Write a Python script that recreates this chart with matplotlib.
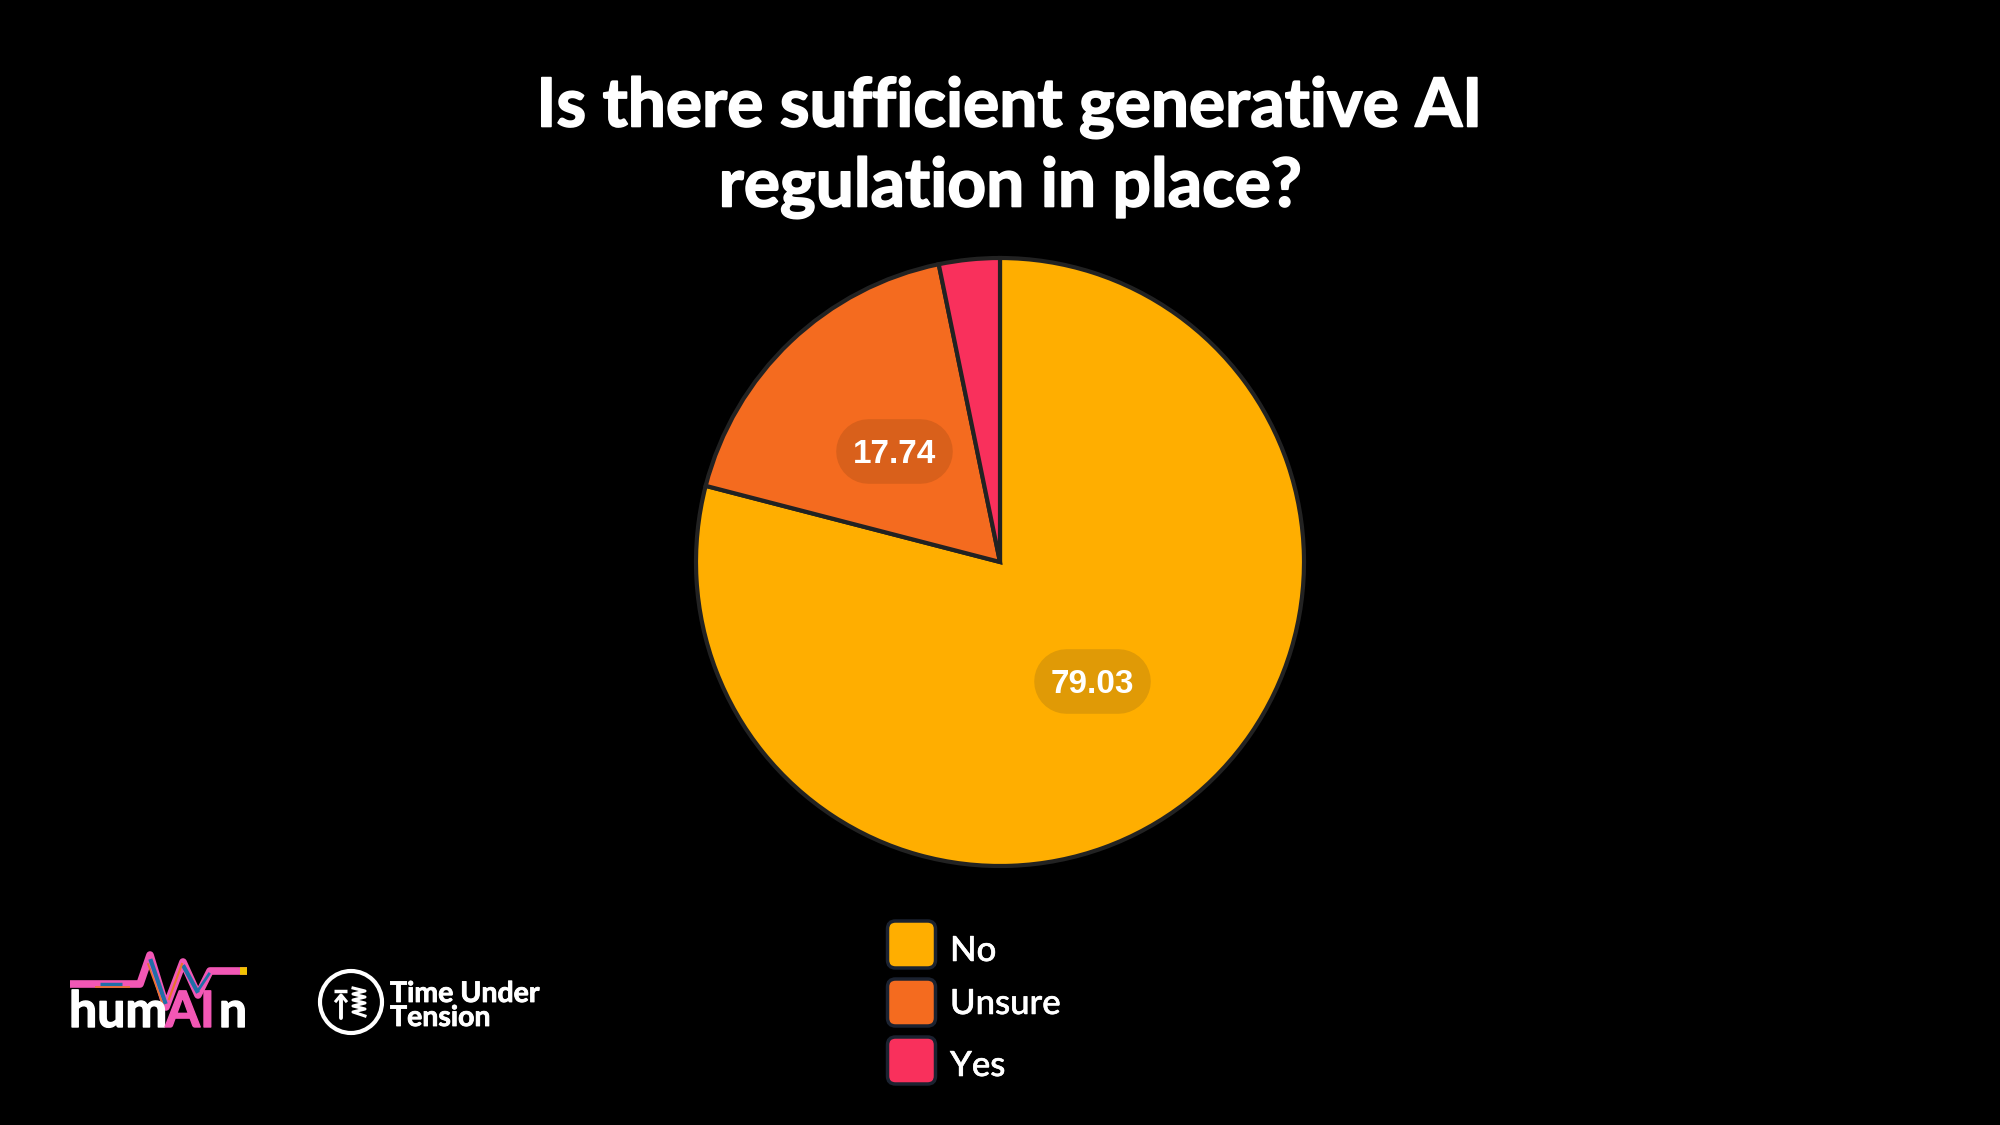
import numpy as np
import matplotlib
matplotlib.use("Agg")
import matplotlib.pyplot as plt
import matplotlib.patches as mpatches
import matplotlib.patheffects as pe

labels = ["No", "Unsure", "Yes"]
values = [79.03, 17.74, 3.23]
colors = ["#FFAE00", "#F46B1F", "#F9305C"]
pill_colors = ["#E09A06", "#D9601B", None]
title_lines = ["Is there sufficient generative AI", "regulation in place?"]

W, H = 2000, 1125
fig = plt.figure(figsize=(20, 11.25), dpi=100, facecolor="black")


def heavy(width):
    return [pe.withStroke(linewidth=width, foreground="white")]


# pixel overlay for everything that is not the pie
over = fig.add_axes([0, 0, 1, 1], zorder=3)
over.set_xlim(0, W)
over.set_ylim(H, 0)
over.axis("off")

# pie
cx, cy, R = 1000, 562, 304
ax = fig.add_axes([(cx - R) / W, 1 - (cy + R) / H, 2 * R / W, 2 * R / H], zorder=1)
wedges, _ = ax.pie(values, colors=colors, startangle=90, counterclock=False, radius=1.0,
                   wedgeprops=dict(edgecolor="#222222", linewidth=3.0))
ax.set_xlim(-1, 1)
ax.set_ylim(-1, 1)

# value labels sit at half radius on the slice mid angle
cum = np.cumsum(values)
for v, p, end in zip(values, pill_colors, cum):
    if p is None:
        continue
    a = np.deg2rad(90 - (end - v / 2) * 3.6)
    x = cx + 0.5 * R * np.cos(a) - 1
    y = cy - 0.5 * R * np.sin(a) - 1
    # a thick round capped line gives the pill shape
    over.plot([x - 26, x + 26], [y, y], color=p, lw=46.5, solid_capstyle="round")
    over.text(x, y, "%.2f" % v, color="white", fontsize=24, fontweight="bold",
              family="Liberation Sans", ha="center", va="center_baseline")

# title
over.text(1009, 101, title_lines[0], color="white", fontsize=48.7, fontweight="bold",
          family="Lato", ha="center", va="center_baseline", path_effects=heavy(1.2))
over.text(1010, 181, title_lines[1], color="white", fontsize=48.7, fontweight="bold",
          family="Lato", ha="center", va="center_baseline", path_effects=heavy(1.2))

# legend
sw_y = [921, 979, 1037]
txt_y = [948, 1001, 1063]
for lab, col, sy, ty in zip(labels, colors, sw_y, txt_y):
    over.add_patch(mpatches.FancyBboxPatch((895, sy + 7.5), 33, 32,
                                           boxstyle=mpatches.BoxStyle("Round", pad=7.5, rounding_size=8),
                                           fc=col, ec="#1B2230", lw=2.5))
    over.text(950, ty, lab, color="white", fontsize=25, fontweight="medium",
              family="Lato", ha="left", va="center_baseline", path_effects=heavy(0.4))

# humAIn logo
px = np.array([70, 140, 150, 166, 183, 198, 210, 247])
py = np.array([984, 984, 955, 1007, 962, 995, 971, 971])
over.plot(px, py, color="#F257B5", lw=5.5, solid_joinstyle="round", solid_capstyle="butt")
over.plot([100, 122], [984, 984], color="#1F6FA8", lw=2.5, solid_capstyle="butt")
over.plot([95, 130], [987, 987], color="#E8762A", lw=1.2, solid_capstyle="butt")
over.plot([151, 165], [961, 1002], color="#1F6FA8", lw=3)
over.plot([148, 163], [964, 1005], color="#E8762A", lw=1.2)
over.plot([184, 197], [967, 991], color="#1F6FA8", lw=3)
over.plot([169, 182], [999, 964], color="#E8762A", lw=1.5)
over.plot([199, 209], [989, 974], color="#1F6FA8", lw=2)
over.plot([240, 247], [971, 971], color="#F2C200", lw=5.5, solid_capstyle="butt")
over.text(69, 1027, "hum", color="white", fontsize=36, fontweight="bold", family="Lato", ha="left",
          va="baseline", path_effects=heavy(1.0))
over.text(190, 1027, "AI", color="#F257B5", fontsize=36, fontweight="bold", family="Lato", ha="center",
          va="baseline", path_effects=[pe.withStroke(linewidth=1.0, foreground="#F257B5")])
over.text(247, 1027, "n", color="white", fontsize=36, fontweight="bold", family="Lato", ha="right",
          va="baseline", path_effects=heavy(1.0))

# Time Under Tension logo
over.add_patch(mpatches.Circle((351, 1002), 31, fc="none", ec="white", lw=3))
over.plot([334, 347], [991, 991], color="white", lw=2.5, solid_capstyle="butt")
over.plot([341, 341], [999, 1018], color="white", lw=2.8, solid_capstyle="round")
over.plot([336, 341, 346], [1001, 995, 1001], color="white", lw=2.2)
over.plot([353, 365, 353, 365, 353, 365, 353, 365, 353, 365],
          [988, 991, 994, 997, 1000, 1003, 1006, 1009, 1012, 1016], color="white", lw=2.2)
over.text(390, 1002, "Time Under", color="white", fontsize=20.5, fontweight="bold", family="Lato", ha="left",
          va="baseline", path_effects=heavy(0.6))
over.text(390, 1026, "Tension", color="white", fontsize=20.5, fontweight="bold", family="Lato", ha="left",
          va="baseline", path_effects=heavy(0.6))

plt.savefig("out.png", dpi=100, facecolor="black")
plt.close()
